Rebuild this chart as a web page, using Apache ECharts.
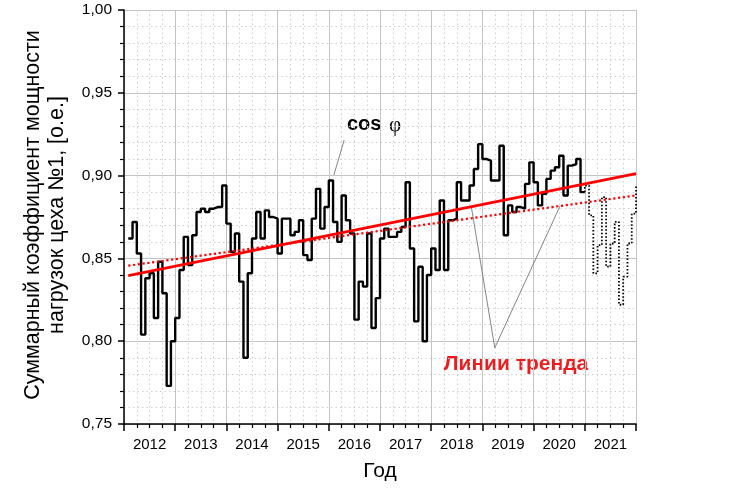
<!DOCTYPE html>
<html>
<head>
<meta charset="UTF-8"/>
<title>cos phi</title>
<script src="https://cdn.jsdelivr.net/npm/echarts@6/dist/echarts.min.js"></script>
<style>
  html, body { margin: 0; padding: 0; background: #fff; }
  #chart { width: 734px; height: 489px; }
</style>
</head>
<body>
<div id="chart"></div>
<script>
// месяцы считаем от января 2012 (0) до января 2022 (120)
var years = ['2012', '2013', '2014', '2015', '2016', '2017', '2018', '2019', '2020', '2021'];
var firstMonth = 1; // февраль 2012

// cos phi, фактические значения по месяцам (февр. 2012 - дек. 2020)
var cosPhi = [
  0.862, 0.872, 0.853, 0.804, 0.838, 0.841, 0.814, 0.848, 0.829, 0.773, 0.800,
  0.814, 0.843, 0.863, 0.846, 0.864, 0.878, 0.880, 0.878, 0.880, 0.881, 0.881, 0.894,
  0.871, 0.854, 0.865, 0.836, 0.790, 0.841, 0.862, 0.878, 0.862, 0.879, 0.875, 0.874,
  0.853, 0.874, 0.874, 0.864, 0.866, 0.873, 0.852, 0.849, 0.874, 0.892, 0.868, 0.881,
  0.897, 0.872, 0.860, 0.888, 0.873, 0.865, 0.813, 0.836, 0.833, 0.865, 0.808, 0.826,
  0.862, 0.868, 0.863, 0.863, 0.866, 0.869, 0.896, 0.856, 0.812, 0.845, 0.800, 0.840,
  0.856, 0.843, 0.885, 0.843, 0.873, 0.874, 0.896, 0.885, 0.885, 0.894, 0.904, 0.919,
  0.910, 0.909, 0.897, 0.897, 0.918, 0.864, 0.882, 0.878, 0.881, 0.880, 0.895, 0.908,
  0.896, 0.882, 0.889, 0.898, 0.903, 0.905, 0.912, 0.888, 0.906, 0.907, 0.910, 0.890
];
// 2021 год (пунктир)
var forecastStart = 108;
var forecast = [0.894, 0.876, 0.841, 0.858, 0.887, 0.845, 0.859, 0.872, 0.822, 0.839, 0.859, 0.877, 0.894];

// линии тренда: концы
var trendMonths = [1, 120];
var trendSolid = [0.8396, 0.9012];
var trendDotted = [0.8456, 0.8880];

// выноски
var cosPointer = [[51.6, 0.9215], [49.2, 0.9004]];
var trendApex = [86.9, 0.7960];
var trendPointerMonths = [81.4, 102.2];

function onTrend(vals, m) {
  return vals[0] + (vals[1] - vals[0]) * (m - trendMonths[0]) / (trendMonths[1] - trendMonths[0]);
}

var solidData = cosPhi.map(function (v, i) { return [firstMonth + i, v]; });
solidData.push([firstMonth + cosPhi.length, cosPhi[cosPhi.length - 1]]);

var dottedData = [[forecastStart, cosPhi[cosPhi.length - 1]]];
forecast.forEach(function (v, i) { dottedData.push([forecastStart + i, v]); });

var yearCenters = years.map(function (y, i) { return 6 + 12 * i; });

var thin = { color: '#666', width: 0.8 };
var grey = '#c4c4c4';

var myChart = echarts.init(document.getElementById('chart'));
var option = {
  animation: false,
  grid: { left: 124, right: 98, top: 10, bottom: 65 },
  xAxis: {
    type: 'value',
    min: 0,
    max: 120,
    interval: 12,
    name: 'Год',
    nameLocation: 'middle',
    nameGap: 37,
    nameTextStyle: { fontFamily: 'Liberation Sans', fontSize: 21, color: '#000' },
    axisLine: { onZero: false, lineStyle: { color: '#000', width: 1.5 } },
    axisTick: { inside: false, length: 7, lineStyle: { color: '#000', width: 1.5 } },
    minorTick: { show: true, splitNumber: 4, length: 4, lineStyle: { color: '#000', width: 1.2 } },
    axisLabel: {
      customValues: yearCenters,
      margin: 13,
      fontFamily: 'Liberation Sans',
      fontSize: 15,
      color: '#000',
      formatter: function (v) { return years[Math.round((v - 6) / 12)]; }
    },
    splitLine: { show: true, lineStyle: { color: grey, width: 1 } },
    minorSplitLine: { show: true, lineStyle: { color: '#cfcfcf', width: 1, type: [1.5, 3] } }
  },
  yAxis: {
    type: 'value',
    min: 0.75,
    max: 1.0,
    interval: 0.05,
    axisLine: { show: true, lineStyle: { color: '#000', width: 1.5 } },
    axisTick: { show: true, inside: false, length: 6, lineStyle: { color: '#000', width: 1.5 } },
    minorTick: { show: true, splitNumber: 5, length: 4, lineStyle: { color: '#000', width: 1.2 } },
    axisLabel: {
      margin: 12,
      fontFamily: 'Liberation Sans',
      fontSize: 15.5,
      color: '#000',
      formatter: function (v) { return v.toFixed(2).replace('.', ','); }
    },
    splitLine: { show: true, lineStyle: { color: grey, width: 1 } },
    minorSplitLine: { show: true, lineStyle: { color: '#cfcfcf', width: 1, type: [1.5, 3] } }
  },
  series: [
    {
      name: 'cos φ',
      type: 'line',
      step: 'end',
      data: solidData,
      symbol: 'none',
      lineStyle: { color: '#000', width: 2.4 },
      z: 3
    },
    {
      name: 'cos φ 2021',
      type: 'line',
      step: 'end',
      data: dottedData,
      symbol: 'none',
      lineStyle: { color: '#000', width: 1.8, type: [1.6, 1.9] },
      z: 3
    },
    {
      name: 'тренд 1',
      type: 'line',
      data: trendMonths.map(function (m, i) { return [m, trendSolid[i]]; }),
      symbol: 'none',
      lineStyle: { color: '#ff0000', width: 2.6 },
      z: 5
    },
    {
      name: 'тренд 2',
      type: 'line',
      data: trendMonths.map(function (m, i) { return [m, trendDotted[i]]; }),
      symbol: 'none',
      lineStyle: { color: '#ff0000', width: 2.2, type: [2.2, 2.6] },
      z: 5
    },
    {
      type: 'line',
      data: cosPointer,
      symbol: 'none',
      silent: true,
      lineStyle: thin,
      z: 4
    },
    {
      type: 'line',
      data: [[trendPointerMonths[0], onTrend(trendSolid, trendPointerMonths[0])], trendApex,
             [trendPointerMonths[1], onTrend(trendDotted, trendPointerMonths[1])]],
      symbol: 'none',
      silent: true,
      lineStyle: thin,
      z: 4
    }
  ],
  graphic: [
    {
      type: 'text',
      x: 45,
      y: 215,
      rotation: Math.PI / 2,
      style: {
        text: 'Суммарный коэффициент мощности\nнагрузок цеха №1, [о.е.]',
        fontFamily: 'Liberation Sans',
        fontSize: 21.5,
        fill: '#000',
        align: 'center',
        verticalAlign: 'middle',
        lineHeight: 24
      }
    },
    {
      type: 'text',
      x: 347,
      y: 124,
      style: { text: 'cos', fontFamily: 'Liberation Sans', fontWeight: 'bold', fontSize: 20, fill: '#000', verticalAlign: 'middle' }
    },
    {
      type: 'text',
      x: 389,
      y: 125,
      style: { text: 'φ', fontFamily: 'Liberation Serif', fontSize: 21, fill: '#000', verticalAlign: 'middle' }
    },
    {
      type: 'text',
      x: 516,
      y: 364,
      style: { text: 'Линии тренда', fontFamily: 'Liberation Sans', fontWeight: 'bold', fontStyle: 'normal', fontSize: 21, fill: '#ee1c1c', align: 'center', verticalAlign: 'middle' }
    }
  ]
};
myChart.setOption(option);
</script>
</body>
</html>
